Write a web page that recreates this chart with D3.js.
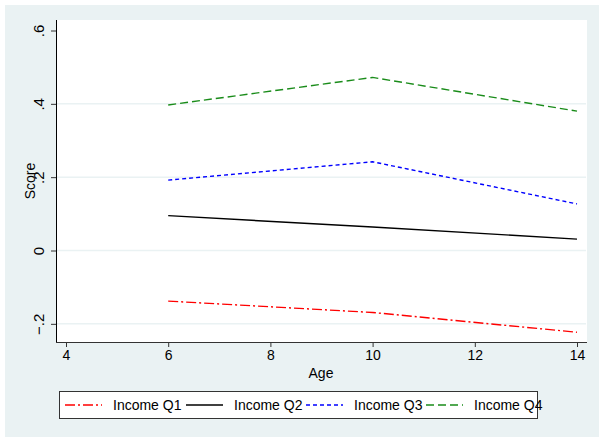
<!DOCTYPE html>
<html>
<head>
<meta charset="utf-8">
<script src="https://cdn.jsdelivr.net/npm/d3@7"></script>
<style>
body{margin:0;background:#fff;}
text{font-family:"Liberation Sans",Arial,sans-serif;}
</style>
</head>
<body>
<div id="main_div"></div>
<script>
let size=[599,437];
let ages=[6,10,14];
let q1=[-0.138,-0.169,-0.223];
let q2=[0.095,0.064,0.031];
let q3=[0.192,0.242,0.127];
let q4=[0.397,0.472,0.380];
let seriesNames=["Income Q1","Income Q2","Income Q3","Income Q4"];
let xTicks=[4,6,8,10,12,14];
let yTicks=[-0.2,0,0.2,0.4,0.6];
let yTickLabels=["\u2212.2","0",".2",".4",".6"];

let colors=["#ff0000","#000000","#0000ff","#1a8c1a"];
let dashes=["10,3,2,3","none","4,3","8,4"];
let xScale,yScale;

let svg=d3.select("#main_div").append("svg")
    .attr("width",size[0]).attr("height",size[1]);

/**background panels */
svg.append("rect").attr("x",5).attr("y",5).attr("width",594).attr("height",432).attr("fill","#eaf2f3");
svg.append("rect").attr("x",56).attr("y",20).attr("width",531).attr("height",322).attr("fill","#fff");

xScale=d3.scaleLinear().domain([4,14]).range([66,577]);
yScale=d3.scaleLinear().domain([0,0.6]).range([250.5,30.5]);

/**grid */
svg.append("g").selectAll("line").data(yTicks.slice(0,4)).enter().append("line")
    .attr("x1",57).attr("x2",586)
    .attr("y1",d=>yScale(d)).attr("y2",d=>yScale(d))
    .attr("stroke","#eaf2f3").attr("stroke-width",1.5);

/**axes */
let xAxis=d3.axisBottom(xScale).tickValues(xTicks).tickSize(5).tickSizeOuter(0).tickPadding(3);
let yAxis=d3.axisLeft(yScale).tickValues(yTicks).tickFormat((d,i)=>yTickLabels[i]).tickSize(5).tickSizeOuter(0);

let gx=svg.append("g").attr("transform","translate(0,342)").call(xAxis);
gx.select(".domain").attr("d","M56,0.5H587").attr("stroke","#333");
gx.selectAll(".tick line").attr("stroke","#333");
gx.selectAll(".tick text").attr("font-size","14px").attr("fill","#000")
    .style("font-family","'Liberation Sans',Arial,sans-serif");

let gy=svg.append("g").attr("transform","translate(56,0)").call(yAxis);
gy.select(".domain").attr("d","M0.5,20V342").attr("stroke","#000");
gy.selectAll(".tick line").attr("stroke","#333");
gy.selectAll(".tick text")
    .attr("x",0).attr("dy",0)
    .attr("transform","translate(-12,0) rotate(-90)")
    .attr("text-anchor","middle")
    .attr("font-size","15px").attr("fill","#000")
    .style("font-family","'Liberation Sans',Arial,sans-serif");

/**axis titles */
svg.append("text").text("Age").attr("x",321).attr("y",378)
    .attr("text-anchor","middle").attr("font-size","14px");
svg.append("text").text("Score")
    .attr("transform","translate(35,181) rotate(-90)")
    .attr("text-anchor","middle").attr("font-size","14px");

/**lines */
let series=[q1,q2,q3,q4];
let line=d3.line().x((d,i)=>xScale(ages[i])).y(d=>yScale(d));
svg.append("g").selectAll("path").data(series).enter().append("path")
    .attr("d",d=>line(d))
    .attr("fill","none")
    .attr("stroke",(d,i)=>colors[i])
    .attr("stroke-width",1.4)
    .attr("stroke-dasharray",(d,i)=>dashes[i]);

/**legend */
svg.append("rect").attr("x",59.5).attr("y",391.5).attr("width",478).attr("height",27)
    .attr("fill","#fff").attr("stroke","#333").attr("stroke-width",1);
let legX=[65,186,306,426];
let leg=svg.append("g").selectAll("g").data(seriesNames).enter().append("g")
    .attr("transform",(d,i)=>"translate("+legX[i]+",405)");
leg.append("line").attr("x1",0).attr("x2",37).attr("y1",0).attr("y2",0)
    .attr("stroke",(d,i)=>colors[i]).attr("stroke-width",1.4)
    .attr("stroke-dasharray",(d,i)=>dashes[i]);
leg.append("text").text(d=>d).attr("x",48).attr("y",5).attr("font-size","14px");
</script>
</body>
</html>
